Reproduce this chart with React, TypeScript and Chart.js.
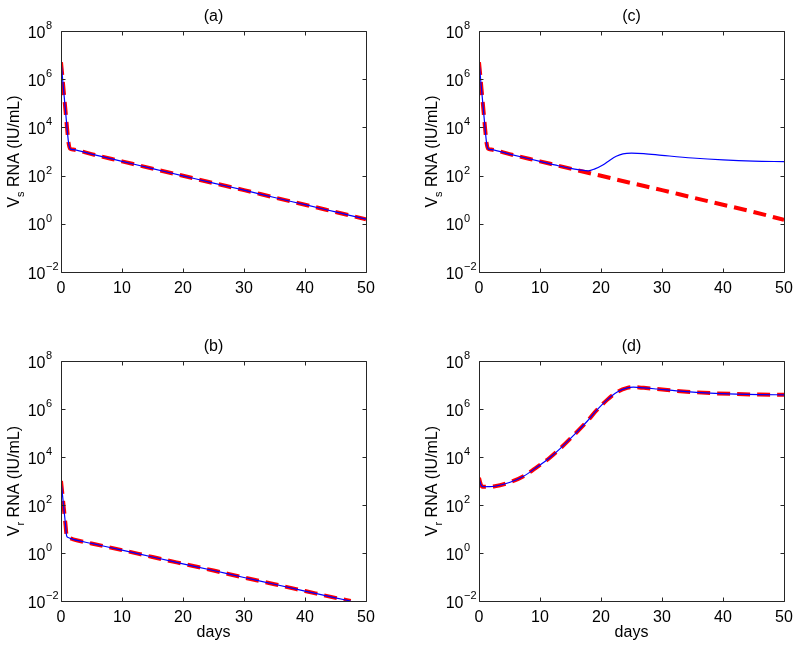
import React, { useEffect, useRef } from "react";
import { Chart, registerables } from "chart.js";
Chart.register(...registerables);

// ---- axis ticks ----
const dayTicks = [0, 10, 20, 30, 40, 50];
const decadeExponents = [-2, 0, 2, 4, 6, 8];

// ---- panel (a): V_s, both treatments ----
const daysA = [0, 0.25, 0.5, 0.75, 1.0, 1.25, 1.5, 2, 5, 10, 15, 20, 25, 30, 35, 40, 45, 50];
const vsBlueA = [6.0e6, 1.1e6, 2.2e5, 4.5e4, 8.9e3, 2.2e3, 1.3e3, 1.2e3, 780, 390, 195, 98, 49, 25, 12.3, 6.2, 3.1, 1.55];
const vsRedA = [5.1e6, 1.1e6, 2.2e5, 4.5e4, 8.9e3, 2.2e3, 1.3e3, 1.2e3, 780, 390, 195, 98, 49, 25, 12.3, 6.2, 3.1, 1.55];

// ---- panel (c): V_s, blue rebounds ----
const daysCBlue = [0, 0.25, 0.5, 0.75, 1.0, 1.25, 1.5, 2, 5, 10, 13, 15, 16.5, 17.9, 19, 20.3, 21.5, 22.5, 23.6, 25, 27, 30, 35, 40, 45, 50];
const vsBlueC = [6.0e6, 1.1e6, 2.2e5, 4.5e4, 8.9e3, 2.2e3, 1.3e3, 1.2e3, 780, 390, 257, 200, 174, 158, 190, 275, 447, 631, 794, 851, 813, 692, 537, 447, 398, 380];
const daysCRed = [0, 0.25, 0.5, 0.75, 1.0, 1.25, 1.5, 2, 5, 10, 15, 20, 25, 30, 35, 40, 45, 50];
const vsRedC = [5.1e6, 1.1e6, 2.2e5, 4.5e4, 8.9e3, 2.2e3, 1.3e3, 1.2e3, 780, 390, 195, 98, 49, 25, 12.3, 6.2, 3.1, 1.45];

// ---- panel (b): V_r decline ----
const daysB = [0, 0.25, 0.5, 0.75, 0.93, 1.2, 1.5, 2, 5, 10, 15, 20, 25, 30, 35, 40, 45, 47.5];
const vrBlueB = [1047, 251, 60, 14.1, 5.1, 4.4, 4.1, 3.7, 2.5, 1.32, 0.68, 0.355, 0.186, 0.095, 0.05, 0.026, 0.0135, 0.01];
const vrRedB = [1000, 251, 60, 14.1, 5.1, 4.4, 4.1, 3.7, 2.5, 1.32, 0.68, 0.355, 0.186, 0.095, 0.05, 0.026, 0.0135, 0.01];

// ---- panel (d): V_r resistant growth ----
const daysD = [0, 0.3, 0.7, 1.5, 2.6, 5.1, 7.3, 9.5, 11.6, 13.3, 15.5, 17.7, 19.3, 21, 22.6, 24.3, 25.3, 27, 29.2, 33.5, 37.9, 42.2, 46, 50];
const vrBlueD = [1349, 708, 575, 580, 603, 891, 1585, 3802, 9333, 22387, 79433, 301995, 891251, 2.4e6, 5.0e6, 7.6e6, 8.1e6, 7.6e6, 6.8e6, 5.4e6, 4.6e6, 4.2e6, 4.0e6, 3.9e6];
const vrRedD = [1349, 708, 575, 580, 603, 891, 1585, 3802, 9333, 22387, 79433, 301995, 891251, 2.4e6, 5.0e6, 7.6e6, 8.1e6, 7.6e6, 6.8e6, 5.4e6, 4.6e6, 4.2e6, 4.0e6, 3.9e6];

const FONT = "'Liberation Sans', Arial, Helvetica, sans-serif";

type PanelCfg = {
  title: string;
  sub: string;
  showDays: boolean;
  blueX: number[];
  blueY: number[];
  redX: number[];
  redY: number[];
  left: number;
  top: number;
  width: number;
  height: number;
  pad: { left: number; top: number; right: number; bottom: number };
};

const toPts = (xs: number[], ys: number[]) => xs.map((x, i) => ({ x, y: ys[i] }));

const axesPlugin = (cfg: PanelCfg) => ({
  id: "matlabAxes",
  afterDraw(chart: any) {
    const ctx: CanvasRenderingContext2D = chart.ctx;
    const { left, top, right, bottom } = chart.chartArea;
    const xs = chart.scales.x;
    const ys = chart.scales.y;
    ctx.save();
    ctx.strokeStyle = "#262626";
    ctx.lineWidth = 1;
    const L = Math.round(left) + 0.5;
    const T = Math.round(top) + 0.5;
    const R = Math.round(right) + 0.5;
    const B = Math.round(bottom) + 0.5;
    ctx.beginPath();
    ctx.rect(L, T, R - L, B - T);
    ctx.stroke();
    const tl = 4;
    ctx.beginPath();
    dayTicks.forEach((d) => {
      const px = Math.round(xs.getPixelForValue(d)) + 0.5;
      ctx.moveTo(px, B);
      ctx.lineTo(px, B - tl);
      ctx.moveTo(px, T);
      ctx.lineTo(px, T + tl);
    });
    decadeExponents.forEach((e) => {
      const py = Math.round(ys.getPixelForValue(Math.pow(10, e))) + 0.5;
      ctx.moveTo(L, py);
      ctx.lineTo(L + tl, py);
      ctx.moveTo(R, py);
      ctx.lineTo(R - tl, py);
    });
    ctx.stroke();

    ctx.fillStyle = "#000";
    // x tick labels
    ctx.font = `16px ${FONT}`;
    ctx.textAlign = "center";
    ctx.textBaseline = "alphabetic";
    dayTicks.forEach((d) => {
      const px = xs.getPixelForValue(d);
      ctx.fillText(String(d), px, bottom + 21);
    });
    // y tick labels 10^e
    decadeExponents.forEach((e) => {
      const py = ys.getPixelForValue(Math.pow(10, e));
      ctx.font = `16px ${FONT}`;
      ctx.textAlign = "right";
      ctx.fillText("10", left - 15.5, py + 6.5);
      ctx.font = `11px ${FONT}`;
      ctx.textAlign = "left";
      ctx.fillText(e < 0 ? "\u2212" + Math.abs(e) : String(e), left - 15, py - 2);
    });
    // panel title
    ctx.font = `16px ${FONT}`;
    ctx.textAlign = "center";
    ctx.fillText(cfg.title, (left + right) / 2, top - 10.5);
    // x axis title
    if (cfg.showDays) {
      ctx.font = `16px ${FONT}`;
      ctx.fillText("days", (left + right) / 2, bottom + 36);
    }
    // y axis title with subscript
    ctx.save();
    ctx.translate(left - 42, (top + bottom) / 2);
    ctx.rotate(-Math.PI / 2);
    ctx.textAlign = "left";
    ctx.font = `16px ${FONT}`;
    const wV = ctx.measureText("V").width;
    const rest = " RNA (IU/mL)";
    const wR = ctx.measureText(rest).width;
    ctx.font = `11px ${FONT}`;
    const wS = ctx.measureText(cfg.sub).width;
    let x0 = -(wV + wS + wR) / 2;
    ctx.font = `16px ${FONT}`;
    ctx.fillText("V", x0, 0);
    x0 += wV;
    ctx.font = `11px ${FONT}`;
    ctx.fillText(cfg.sub, x0, 5);
    x0 += wS;
    ctx.font = `16px ${FONT}`;
    ctx.fillText(rest, x0, 0);
    ctx.restore();
    ctx.restore();
  },
});

function Panel({ cfg }: { cfg: PanelCfg }) {
  const ref = useRef<HTMLCanvasElement | null>(null);
  useEffect(() => {
    if (!ref.current) return;
    const chart = new Chart(ref.current, {
      type: "line",
      data: {
        datasets: [
          {
            data: toPts(cfg.blueX, cfg.blueY),
            borderColor: "#0000ff",
            borderWidth: 1.2,
            pointRadius: 0,
            cubicInterpolationMode: "monotone",
            fill: false,
          },
          {
            data: toPts(cfg.redX, cfg.redY),
            borderColor: "#ff0000",
            borderWidth: 4,
            borderDash: [13, 7],
            borderCapStyle: "butt",
            pointRadius: 0,
            cubicInterpolationMode: "monotone",
            fill: false,
          },
        ],
      },
      options: {
        animation: false,
        responsive: false,
        maintainAspectRatio: false,
        events: [],
        layout: { padding: cfg.pad },
        plugins: {
          legend: { display: false },
          title: { display: false },
          tooltip: { enabled: false },
        },
        scales: {
          x: { type: "linear", min: 0, max: 50, display: false },
          y: { type: "logarithmic", min: 0.01, max: 1e8, display: false },
        },
      },
      plugins: [axesPlugin(cfg)],
    } as any);
    return () => chart.destroy();
  }, [cfg]);
  return (
    <canvas
      ref={ref}
      width={cfg.width}
      height={cfg.height}
      style={{ position: "absolute", left: cfg.left, top: cfg.top, width: cfg.width, height: cfg.height }}
    />
  );
}

const panels: PanelCfg[] = [
  {
    title: "(a)", sub: "s", showDays: false,
    blueX: daysA, blueY: vsBlueA, redX: daysA, redY: vsRedA,
    left: 0, top: 0, width: 400, height: 330,
    pad: { left: 61, top: 31, right: 34, bottom: 58 },
  },
  {
    title: "(c)", sub: "s", showDays: false,
    blueX: daysCBlue, blueY: vsBlueC, redX: daysCRed, redY: vsRedC,
    left: 400, top: 0, width: 400, height: 330,
    pad: { left: 79, top: 31, right: 16, bottom: 58 },
  },
  {
    title: "(b)", sub: "r", showDays: true,
    blueX: daysB, blueY: vrBlueB, redX: daysB, redY: vrRedB,
    left: 0, top: 330, width: 400, height: 321,
    pad: { left: 61, top: 31, right: 34, bottom: 50 },
  },
  {
    title: "(d)", sub: "r", showDays: true,
    blueX: daysD, blueY: vrBlueD, redX: daysD, redY: vrRedD,
    left: 400, top: 330, width: 400, height: 321,
    pad: { left: 79, top: 31, right: 16, bottom: 50 },
  },
];

export default function App() {
  return (
    <div style={{ position: "absolute", left: 0, top: 0, width: 800, height: 651, background: "#fff" }}>
      {panels.map((p) => (
        <Panel key={p.title} cfg={p} />
      ))}
    </div>
  );
}
